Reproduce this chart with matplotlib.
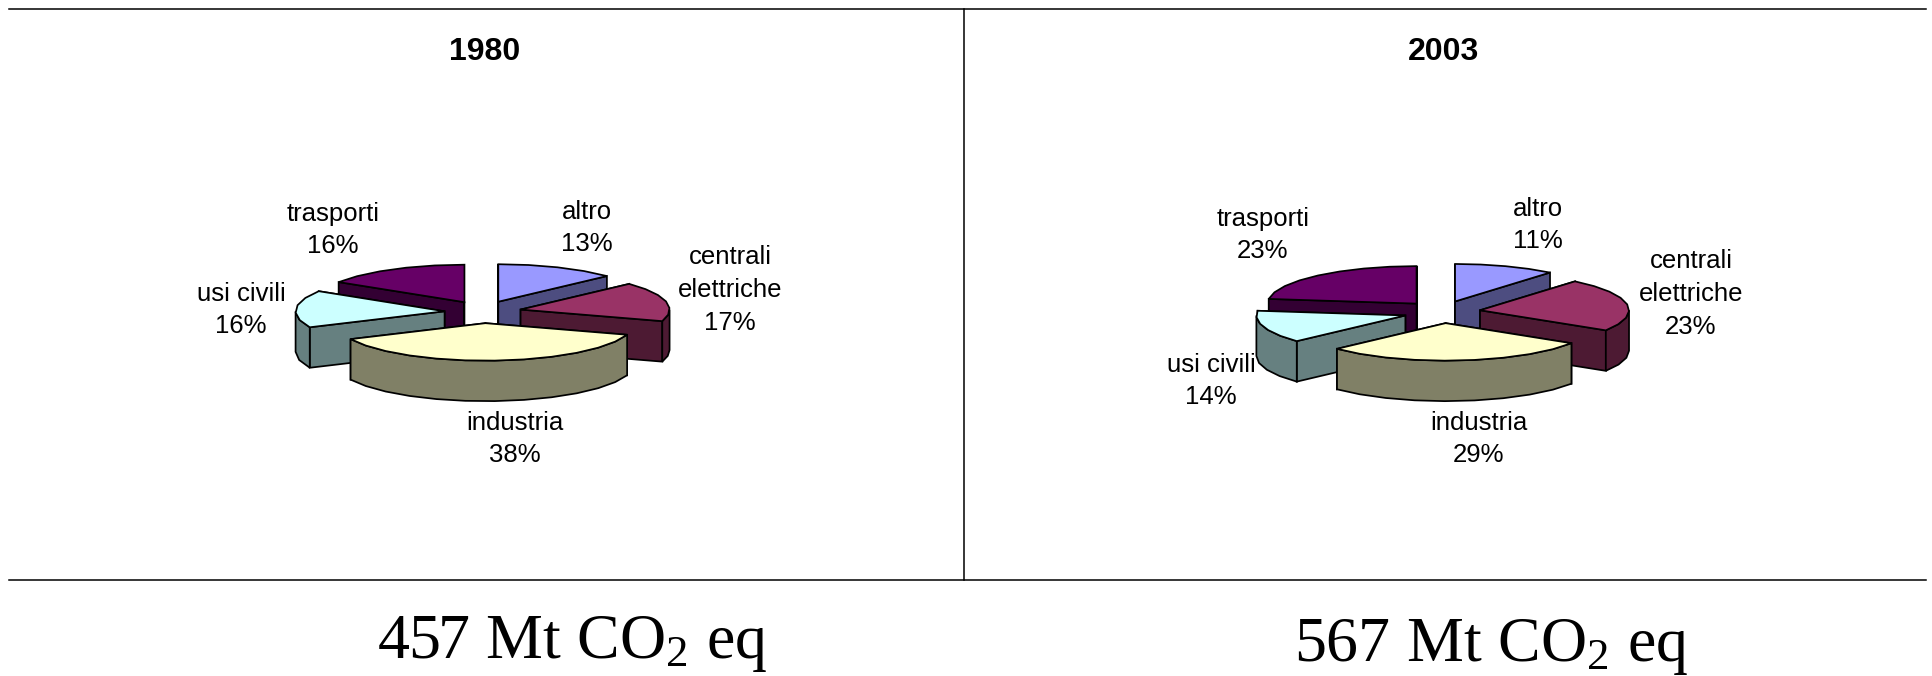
import numpy as np
import matplotlib
matplotlib.use('Agg')
import matplotlib.pyplot as plt
from matplotlib.patches import Polygon

categories = ['altro', 'centrali\nelettriche', 'industria', 'usi civili', 'trasporti']
shares_1980 = [13, 17, 38, 16, 16]
shares_2003 = [11, 23, 29, 14, 23]
totals = [457, 567]
years = ['1980', '2003']

top_colors = ['#9999FF', '#993366', '#FFFFCC', '#CCFFFF', '#660066']
side_colors = ['#4D4D80', '#4D1A33', '#808066', '#668080', '#330033']

# pie geometry, in pixels
RX, RY = 149, 37.5
DEPTH = 40.5
EXPLODE_X, EXPLODE_Y = 38.5, 11.2
STEP = 11  # degrees per chord, the rim is a coarse polyline

plt.rcParams['font.family'] = ['Liberation Sans', 'DejaVu Sans']
plt.rcParams['mathtext.fontset'] = 'custom'
plt.rcParams['mathtext.rm'] = 'Liberation Serif'
plt.rcParams['mathtext.it'] = 'Liberation Serif'


def rim(cx, cy, a0, a1):
  # points along the elliptical rim, angles clockwise from 12 o'clock
  n = max(int(round((a1 - a0) / STEP)), 1)
  t = np.radians(np.linspace(a0, a1, n + 1))
  return np.c_[cx + RX * np.sin(t), cy - RY * np.cos(t)]


def draw_slice(ax, cx, cy, a0, a1, top, side):
  # walls first (rear ones before front ones), then the lid
  mid = np.radians((a0 + a1) / 2)
  x0 = cx + EXPLODE_X * np.sin(mid)
  y0 = cy - EXPLODE_Y * np.cos(mid)
  edge = rim(x0, y0, a0, a1)
  down = np.array([0, DEPTH])
  apex = np.array([x0, y0])
  style = dict(edgecolor='black', linewidth=1.25, joinstyle='miter')

  walls = [np.array([apex, p, p + down, apex + down]) for p in (edge[0], edge[-1])]
  walls.sort(key=lambda w: w[:, 1].max())
  for w in walls:
    ax.add_patch(Polygon(w, facecolor=side, **style))

  # outer wall, only the part of the rim that faces the viewer
  lo, hi = max(a0, 90), min(a1, 270)
  if lo < hi:
    front = rim(x0, y0, lo, hi)
    ax.add_patch(Polygon(np.r_[front, (front + down)[::-1]], facecolor=side, **style))

  ax.add_patch(Polygon(np.r_[[apex], edge], facecolor=top, **style))


def draw_pie(ax, cx, cy, shares):
  bounds = np.r_[0, np.cumsum(shares)] * 360 / sum(shares)
  # paint from the back of the pie to the front
  order = sorted(range(len(shares)), key=lambda i: -np.cos(np.radians((bounds[i] + bounds[i + 1]) / 2)))
  for i in order:
    draw_slice(ax, cx, cy, bounds[i], bounds[i + 1], top_colors[i], side_colors[i])


fig = plt.figure(figsize=(19.33, 6.76), dpi=100)
ax = fig.add_axes([0, 0, 1, 1])
ax.set_xlim(0, 1933)
ax.set_ylim(676, 0)
ax.axis('off')

# frame around the two panels
ax.plot([9, 1926], [9, 9], color='black', lw=1.1)
ax.plot([9, 1926], [580, 580], color='black', lw=1.1)
ax.plot([964, 964], [9, 580], color='black', lw=1.1)

draw_pie(ax, 483, 312, shares_1980)
draw_pie(ax, 1442, 312, shares_2003)

label_pos_1980 = [(587, 228), (730, 290), (515, 439), (241, 310), (333, 230)]
label_pos_2003 = [(1538, 225), (1691, 294), (1479, 439), (1211, 381), (1263, 235)]
for shares, positions in ((shares_1980, label_pos_1980), (shares_2003, label_pos_2003)):
  for name, v, (x, y) in zip(categories, shares, positions):
    ax.text(x, y, '%s\n%d%%' % (name, v), ha='center', va='center', fontsize=18.5,
            color='black', linespacing=1.45)

ax.text(484.5, 52, years[0], ha='center', va='center', fontsize=23, fontweight='bold')
ax.text(1444, 52, years[1], ha='center', va='center', fontsize=23, fontweight='bold')

ax.text(572, 658, r'$\mathrm{%d\ Mt\ CO_2\ eq}$' % totals[0], ha='center', va='baseline', fontsize=46)
ax.text(1491.5, 661, r'$\mathrm{%d\ Mt\ CO_2\ eq}$' % totals[1], ha='center', va='baseline', fontsize=46)

fig.savefig('out.png', dpi=100)
